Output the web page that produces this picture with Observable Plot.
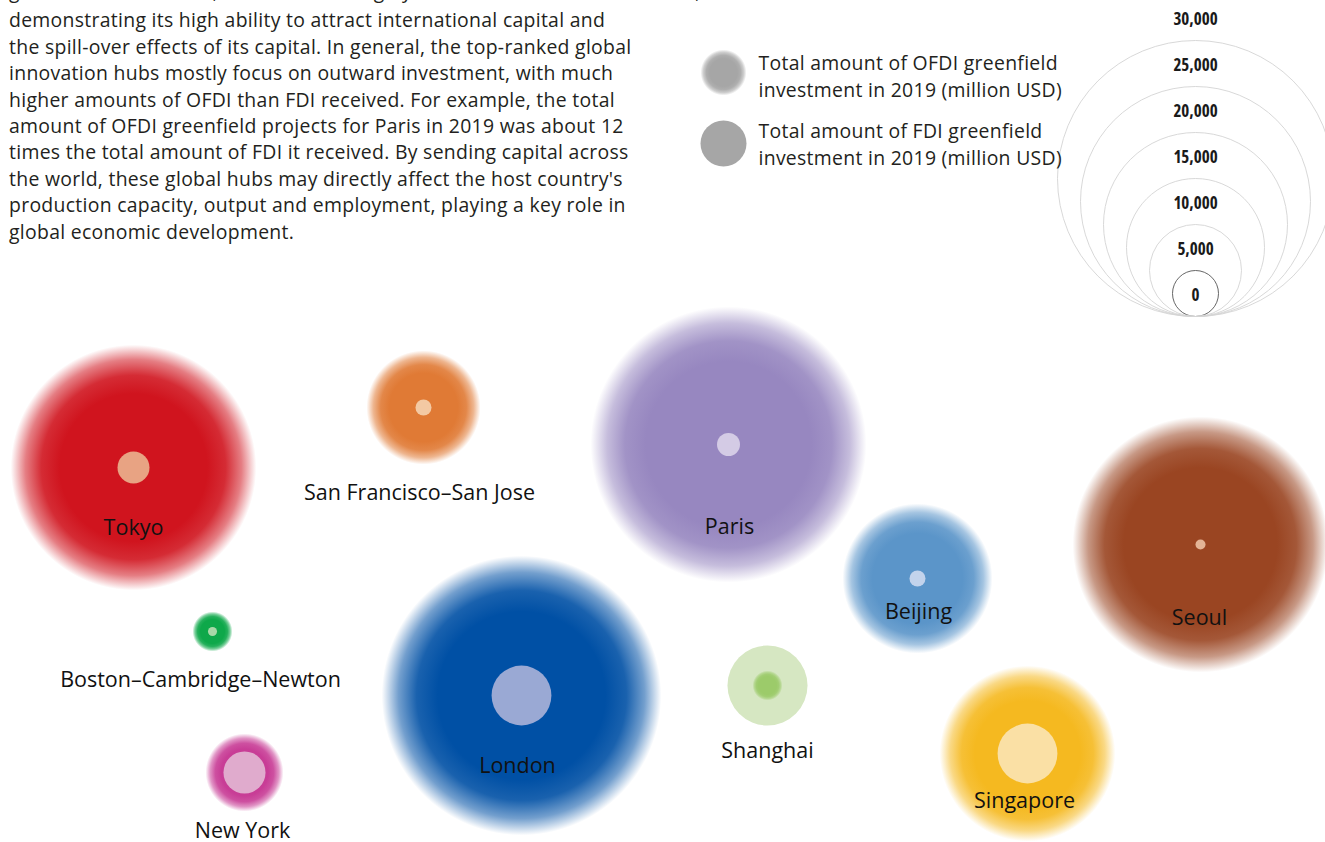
<!DOCTYPE html>
<html>
<head>
<meta charset="utf-8">
<script src="https://cdn.jsdelivr.net/npm/d3@7"></script>
<script src="https://cdn.jsdelivr.net/npm/@observablehq/plot@0.6"></script>
<style>
  body { margin: 0; background: #fff; }
  #wrap { position: relative; width: 1325px; height: 842px; overflow: hidden; }
  #para { position: absolute; left: 9px; top: -19px; font-family: "Open Sans", sans-serif; font-size: 19.4px;
          letter-spacing: 0.3px; line-height: 26.4px; color: #231f20; white-space: pre; }
  #para div:first-child { position: relative; top: -3px; }
  .layer { position: absolute; left: 0; top: 0; }
</style>
</head>
<body>
<div id="wrap"><div id="para"></div></div>
<script>
// ---------------- data ----------------
const cities = ["Tokyo", "San Francisco–San Jose", "Paris", "Beijing", "Seoul",
                "Boston–Cambridge–Newton", "London", "New York", "Shanghai", "Singapore"];
// total OFDI greenfield investment 2019 (million USD)
const ofdi = [26700, 12400, 30000, 16300, 27800, 4350, 30400, 8480, 3260, 19100];
// total FDI greenfield investment received 2019 (million USD)
const fdi  = [3480, 1740, 2500, 1740, 1090, 980, 6500, 4570, 8700, 6500];
// size legend
const legendValues = [0, 5000, 10000, 15000, 20000, 25000, 30000];
const legendCircleValues = [0, 5000, 10000, 15000, 20000, 25000];
const legendItems = ["Total amount of OFDI greenfield\ninvestment in 2019 (million USD)",
                     "Total amount of FDI greenfield\ninvestment in 2019 (million USD)"];

// ---------------- layout (bubble packing positions) ----------------
const posX   = [133, 423, 728, 917, 1200, 212, 521, 244, 767, 1027];
const posY   = [467, 407, 444, 578, 544, 631, 695, 772, 685, 753];
const labelX = [133, 419, 729, 918, 1199, 200, 517, 242, 767, 1024];
const labelY = [528, 493, 527, 612, 618, 680, 766, 831, 751, 801];

// ---------------- styles ----------------
const mainColor = ["#d0141e", "#e07a35", "#9787c0", "#5b95c9", "#9a4522",
                   "#0ea84a", "#0050a5", "#c83d96", "#9ccb6a", "#f5b920"];
const tintColor = ["#e8a383", "#f3c9a3", "#d4cbe5", "#c2d3ec", "#e3b496",
                   "#a8d8a8", "#9aa9d4", "#e0abcd", "#d6e7c2", "#fae0a5"];

const paragraph = [
  "greenfield investment, London ranks highly in both OFDI and FDI received,",
  "demonstrating its high ability to attract international capital and",
  "the spill-over effects of its capital. In general, the top-ranked global",
  "innovation hubs mostly focus on outward investment, with much",
  "higher amounts of OFDI than FDI received. For example, the total",
  "amount of OFDI greenfield projects for Paris in 2019 was about 12",
  "times the total amount of FDI it received. By sending capital across",
  "the world, these global hubs may directly affect the host country's",
  "production capacity, output and employment, playing a key role in",
  "global economic development."
];
const paraEl = document.getElementById("para");
paragraph.forEach(line => { const d = document.createElement("div"); d.textContent = line; paraEl.appendChild(d); });

function addGradient(svg, id, color) {
  let defs = svg.querySelector("defs");
  if (!defs) { defs = document.createElementNS("http://www.w3.org/2000/svg", "defs"); svg.insertBefore(defs, svg.firstChild); }
  const g = d3.select(defs).append("radialGradient").attr("id", id);
  [[0, 1], [0.6, 1], [0.75, 0.9], [0.88, 0.55], [1, 0]].forEach(([o, a]) =>
    g.append("stop").attr("offset", o).attr("stop-color", color).attr("stop-opacity", a));
}

// ---------------- main bubble chart ----------------
const rows = cities.flatMap((c, i) => [
  {i, city: c, kind: "OFDI", value: ofdi[i]},
  {i, city: c, kind: "FDI", value: fdi[i]}
]).sort((a, b) => b.value - a.value);

const W = 1325, H = 842;
const main = Plot.plot({
  width: W, height: H, margin: 0,
  x: {domain: [0, W], range: [0, W], axis: null},
  y: {domain: [0, H], range: [0, H], axis: null},
  r: {type: "linear", domain: [0, 30000], range: [0, 138]},
  color: {type: "identity"},
  style: {background: "transparent", overflow: "visible"},
  marks: [
    Plot.dot(rows, {
      x: d => posX[d.i], y: d => posY[d.i], r: "value",
      fill: d => d.kind === "OFDI" ? `url(#g${d.i})` : tintColor[d.i],
      stroke: null, sort: null
    }),
    Plot.text(cities, {
      x: (d, i) => labelX[i], y: (d, i) => labelY[i], text: d => d,
      fontFamily: "Open Sans", fontSize: 21.5, fill: "#111"
    })
  ]
});
mainColor.forEach((c, i) => addGradient(main, "g" + i, c));
main.classList.add("layer");
document.getElementById("wrap").appendChild(main);

// ---------------- legends ----------------
const legR = {type: "linear", domain: [0, 30000], range: [23, 161]};
const rs = Plot.scale({r: legR});
const fmt = d3.format(",");
const legend = Plot.plot({
  width: W, height: 340, margin: 0,
  x: {domain: [0, W], range: [0, W], axis: null},
  y: {domain: [0, 340], range: [0, 340], axis: null},
  r: legR,
  color: {type: "identity"},
  style: {background: "transparent", overflow: "visible"},
  marks: [
    Plot.dot(legendCircleValues, {
      x: 1195, y: v => 316 - rs.apply(v), r: v => v,
      fill: "none", stroke: v => v === 0 ? "#555" : "#d4d4d4", strokeWidth: 0.9, sort: null
    }),
    Plot.text(legendValues, {
      x: 1195, y: v => 316 - 2 * rs.apply(v) + 25, text: v => fmt(v),
      fontFamily: "Open Sans", fontWeight: "bold", className: "num",
      fontSize: 17, fill: "#1a1a1a"
    }),
    Plot.dot(legendItems, {
      x: 723, y: (d, i) => i === 0 ? 72 : 143, r: 23,
      fill: (d, i) => i === 0 ? "url(#gl)" : "#a6a6a6", stroke: null
    }),
    Plot.text(legendItems, {
      x: 758, y: (d, i) => i === 0 ? 74.5 : 142.5, text: d => d,
      textAnchor: "start", lineHeight: 1.4, className: "leg",
      fontFamily: "Open Sans", fontSize: 19.4, fill: "#231f20"
    })
  ]
});
addGradient(legend, "gl", "#a6a6a6");
legend.querySelectorAll(".num text").forEach(t => { t.style.fontStretch = "condensed"; });
legend.querySelectorAll(".leg text").forEach(t => { t.style.letterSpacing = "0.3px"; });
legend.classList.add("layer");
document.getElementById("wrap").appendChild(legend);
</script>
</body>
</html>
